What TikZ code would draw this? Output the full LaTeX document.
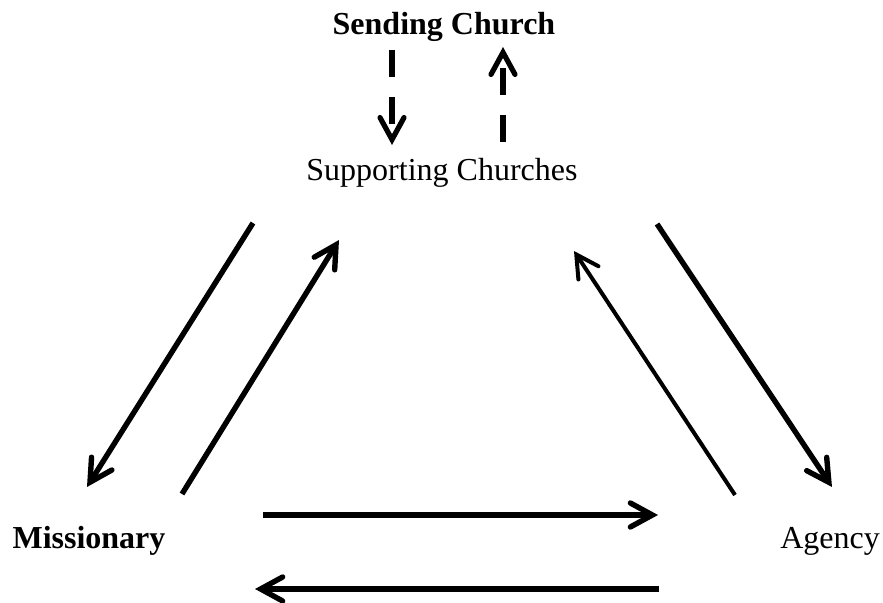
\documentclass[tikz,border=0pt]{standalone}
\usepackage{fontspec}
\setmainfont{Liberation Serif}
\usetikzlibrary{arrows.meta}
\usetikzlibrary{positioning}
\tikzset{flow/.style = {line width = 2.7pt, line join = round,
                        -{Straight Barb[length = 11pt, width = 12pt, line cap = round]}}}
\tikzset{thin flow/.style = {flow, line width = 2pt}}
\tikzset{dash flow/.style = {flow, line width = 2.6pt, dash pattern = on 13.5pt off 10pt}}
\tikzset{lbl/.style = {font = \fontsize{16}{19}\selectfont, inner sep = 0, anchor = base}}

\begin{document}
\begin{tikzpicture}[x = 0.5pt, y = -0.5pt]
      \useasboundingbox (0, 0) rectangle (883, 603);
      \node [lbl] (send) at (444, 35) {\textbf{Sending Church}};
      \node [lbl] (supp) at (442, 181) {Supporting Churches};
      \node [lbl] (miss) at (89, 549) {\textbf{Missionary}};
      \node [lbl] (agcy) at (830, 549) {Agency};
      % ends of the connectors
      \coordinate (sd1) at (392, 50);  \coordinate (sd2) at (392, 145);
      \coordinate (su1) at (503, 142); \coordinate (su2) at (503, 47);
      \coordinate (ml1) at (253, 223); \coordinate (ml2) at (87, 487);
      \coordinate (mu1) at (182, 494); \coordinate (mu2) at (339, 240);
      \coordinate (au1) at (735, 495); \coordinate (au2) at (574, 251);
      \coordinate (ad1) at (657, 224); \coordinate (ad2) at (832, 487);
      \coordinate (hr1) at (263, 515); \coordinate (hr2) at (658, 515);
      \coordinate (hl1) at (659, 589); \coordinate (hl2) at (255, 589);
      \draw [dash flow] (sd1) -- (sd2);
      \draw [dash flow] (su1) -- (su2);
      \draw [flow] (ml1) -- (ml2);
      \draw [flow] (mu1) -- (mu2);
      \draw [thin flow] (au1) -- (au2);
      \draw [flow] (ad1) -- (ad2);
      \draw [flow] (hr1) -- (hr2);
      \draw [flow] (hl1) -- (hl2);
    \end{tikzpicture}
\end{document}
